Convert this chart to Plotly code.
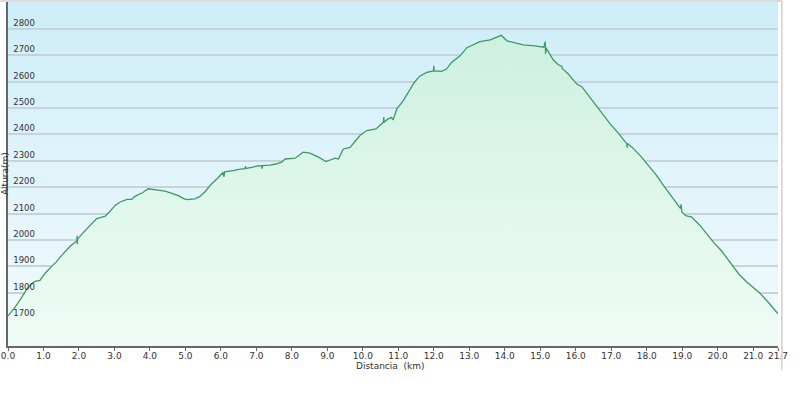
import plotly.graph_objects as go

# ---- data ----
distancia_km = [
    0.00, 0.20, 0.40, 0.54, 0.65, 0.76, 0.90, 1.04, 1.23, 1.35, 1.47, 1.60, 1.75, 1.90,
    1.94, 1.95, 1.955, 1.96, 2.10, 2.22, 2.35, 2.50, 2.60, 2.73, 2.85, 3.02, 3.15, 3.35,
    3.49, 3.55, 3.63, 3.80, 3.95, 4.10, 4.28, 4.45, 4.61, 4.80, 4.95, 5.04, 5.27, 5.41,
    5.55, 5.74, 5.90, 6.05, 6.09, 6.10, 6.35, 6.50, 6.68, 6.69, 6.70, 6.90, 7.06, 7.15,
    7.16, 7.17, 7.38, 7.55, 7.71, 7.81, 8.09, 8.20, 8.32, 8.51, 8.65, 8.75, 8.96, 9.10,
    9.22, 9.31, 9.45, 9.64, 9.78, 9.92, 10.11, 10.37, 10.50, 10.58, 10.59, 10.60, 10.70,
    10.81, 10.85, 10.96, 11.14, 11.30, 11.45, 11.61, 11.80, 11.99, 12.00, 12.01, 12.22,
    12.36, 12.50, 12.74, 12.93, 13.10, 13.30, 13.59, 13.75, 13.90, 14.06, 14.29, 14.52,
    14.85, 15.10, 15.14, 15.15, 15.16, 15.37, 15.50, 15.61, 15.62, 15.79, 16.03, 16.17,
    16.40, 16.59, 16.69, 16.97, 17.20, 17.44, 17.45, 17.46, 17.60, 17.85, 18.05, 18.25,
    18.47, 18.75, 18.95, 18.97, 18.99, 19.10, 19.27, 19.50, 19.70, 19.88, 20.10, 20.44,
    20.60, 20.82, 21.00, 21.20, 21.45, 21.67, 21.70,
]
altura_m = [
    1712, 1745, 1785, 1816, 1832, 1843, 1847, 1873, 1900, 1915, 1935, 1955, 1976, 1992,
    1996, 2016, 1984, 2003, 2025, 2043, 2062, 2081, 2085, 2089, 2105, 2131, 2143, 2154,
    2154, 2163, 2169, 2180, 2194, 2190, 2188, 2184, 2178, 2168, 2157, 2153, 2156, 2165,
    2183, 2213, 2233, 2255, 2240, 2258, 2263, 2268, 2270, 2280, 2271, 2276, 2282, 2281,
    2270, 2282, 2284, 2288, 2295, 2307, 2310, 2322, 2333, 2329, 2320, 2314, 2297, 2303,
    2310, 2307, 2345, 2351, 2372, 2396, 2415, 2421, 2437, 2446, 2466, 2446, 2458,
    2465, 2455, 2497, 2528, 2565, 2597, 2622, 2635, 2641, 2660, 2641, 2639,
    2648, 2673, 2698, 2729, 2740, 2752, 2759, 2768, 2776, 2755, 2748, 2740,
    2736, 2731, 2752, 2705, 2728, 2682, 2665, 2658, 2650, 2629, 2591, 2581,
    2540, 2503, 2488, 2440, 2405, 2364, 2350, 2366, 2350, 2315, 2282, 2250,
    2207, 2155, 2120, 2135, 2106, 2092, 2087, 2055, 2020, 1992, 1960, 1898,
    1870, 1841, 1820, 1797, 1760, 1722, 1720,
]
x_tick_vals = [0, 1, 2, 3, 4, 5, 6, 7, 8, 9, 10, 11, 12, 13, 14, 15, 16, 17, 18, 19, 20, 21, 21.7]
x_tick_text = ["0.0", "1.0", "2.0", "3.0", "4.0", "5.0", "6.0", "7.0", "8.0", "9.0", "10.0",
               "11.0", "12.0", "13.0", "14.0", "15.0", "16.0", "17.0", "18.0", "19.0", "20.0",
               "21.0", "21.7"]
y_tick_vals = [1700, 1800, 1900, 2000, 2100, 2200, 2300, 2400, 2500, 2600, 2700, 2800]
y_range = [1598, 2906]
x_range = [0, 21.7]

FONT = "DejaVu Sans"

fig = go.Figure()
fig.add_trace(go.Scatter(
    x=distancia_km, y=altura_m, mode="lines",
    line=dict(color="#3d9a60", width=1.3),
    fill="tozeroy",
    fillgradient=dict(type="vertical", start=1598, stop=2800,
                      colorscale=[[0, "#effcf5"], [1, "#cdf0e0"]]),
    hoverinfo="skip", showlegend=False,
))

# background vertical gradient (light blue at top to near white at bottom)
shapes = []
n = 40
c_top = (205, 237, 248)
c_bot = (243, 251, 253)
for i in range(n):
    t = i / (n - 1)
    r = round(c_bot[0] + (c_top[0] - c_bot[0]) * t)
    g = round(c_bot[1] + (c_top[1] - c_bot[1]) * t)
    b = round(c_bot[2] + (c_top[2] - c_bot[2]) * t)
    shapes.append(dict(type="rect", xref="paper", yref="paper", x0=0, x1=1,
                       y0=i / n, y1=(i + 1) / n, layer="below",
                       fillcolor=f"rgb({r},{g},{b})", line=dict(width=0)))
# right-hand panel border
shapes.append(dict(type="line", xref="paper", yref="paper", x0=1.005, x1=1.005,
                   y0=-0.07, y1=1, line=dict(color="#cfcfcf", width=1.5)))
# top border
shapes.append(dict(type="line", xref="paper", yref="paper", x0=-0.01, x1=1.005,
                   y0=1, y1=1, line=dict(color="#dcdcdc", width=2)))

fig.update_layout(
    width=800, height=420,
    margin=dict(l=8, r=22, t=1, b=74, autoexpand=False),
    paper_bgcolor="white",
    plot_bgcolor="#e6f6fb",
    shapes=shapes,
    font=dict(family=FONT, size=9, color="#333333"),
    xaxis=dict(range=x_range, tickvals=x_tick_vals, ticktext=x_tick_text,
               automargin=False, ticklabeloverflow="allow", ticklabelstandoff=-3,
               showgrid=False, zeroline=False, showline=True, linecolor="#666666",
               linewidth=1.5, ticks="outside", ticklen=3, tickcolor="#666666",
               tickfont=dict(family=FONT, size=9, color="#333333")),
    yaxis=dict(range=y_range, tickvals=y_tick_vals, ticklabelposition="inside top",
               automargin=False, ticklabeloverflow="allow", ticklabelstandoff=3,
               showgrid=True, gridcolor="#c5d3da", gridwidth=1.5, zeroline=False,
               showline=True, linecolor="#666666", linewidth=2, ticks="",
               tickfont=dict(family=FONT, size=8.5, color="#333333")),
    annotations=[
        dict(text="Distancia  (km)", xref="paper", yref="paper", x=0.497, y=-0.058,
             xanchor="center", yanchor="middle", showarrow=False,
             font=dict(family=FONT, size=9, color="#333333")),
        dict(text="Altura(m)", xref="paper", yref="paper", x=-0.0045, y=0.5,
             xanchor="center", yanchor="middle", textangle=-90, showarrow=False,
             font=dict(family=FONT, size=9, color="#333333")),
    ],
)

fig.write_html("out.html", config={"displayModeBar": False},
               post_script="document.body.style.margin='0';document.body.style.padding='0';")
